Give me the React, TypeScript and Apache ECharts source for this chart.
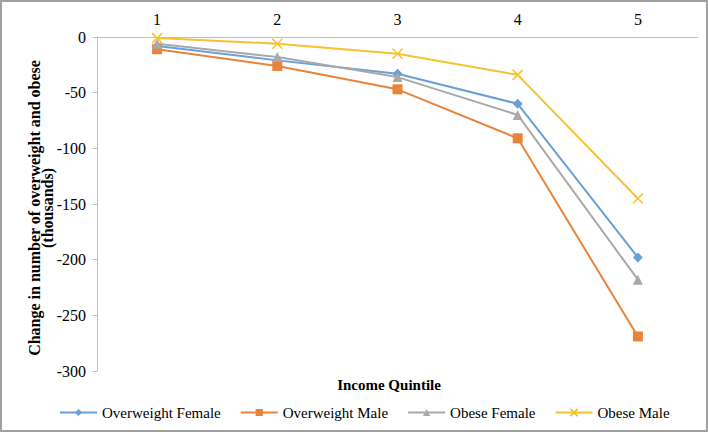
import React, { useEffect, useRef } from "react";
import * as echarts from "echarts";

const quintiles = ["1", "2", "3", "4", "5"];
const overweightFemale = [-8, -21, -33, -60, -198];
const overweightMale = [-11, -26, -47, -91, -269];
const obeseFemale = [-6, -18, -36, -70, -218];
const obeseMale = [-1, -6, -15, -34, -145];

const FONT = "Liberation Serif";
const COLORS = ["#6A9FD8", "#E8843A", "#A9A9A9", "#F6C22E"];
const CROSS = "path://M0,0L10,10M10,0L0,10";

export default function App() {
  const ref = useRef<HTMLDivElement>(null);
  useEffect(() => {
    if (!ref.current) return;
    const chart = echarts.init(ref.current, null, { renderer: "svg" });
    const mk = (name: string, data: number[], color: string, symbol: string, size: number, extra: any = {}) => ({
      name,
      type: "line",
      data,
      symbol,
      symbolSize: size,
      lineStyle: { color, width: 2 },
      itemStyle: { color, ...extra },
    });
    chart.setOption({
      animation: false,
      backgroundColor: "#fff",
      textStyle: { fontFamily: FONT },
      grid: { left: 97, right: 10, top: 37, bottom: 61 },
      legend: {
        left: 54,
        top: 400,
        itemWidth: 37,
        itemHeight: 9,
        itemGap: 19,
        textStyle: { fontFamily: FONT, fontSize: 15, color: "#000" },
        data: ["Overweight Female", "Overweight Male", "Obese Female", "Obese Male"],
      },
      xAxis: {
        type: "category",
        position: "top",
        data: quintiles,
        boundaryGap: true,
        axisLine: { lineStyle: { color: "#BFBFBF", width: 1 } },
        axisTick: { inside: true, length: 5, lineStyle: { color: "#BFBFBF" } },
        axisLabel: { fontFamily: FONT, fontSize: 16, color: "#000", margin: 10 },
        splitLine: { show: false },
      },
      yAxis: {
        type: "value",
        min: -300,
        max: 0,
        interval: 50,
        axisLine: { show: true, lineStyle: { color: "#BFBFBF", width: 1 } },
        axisTick: { show: true, length: 4, lineStyle: { color: "#BFBFBF" } },
        axisLabel: { fontFamily: FONT, fontSize: 16, color: "#000", margin: 11 },
        splitLine: { show: false },
      },
      graphic: [
        {
          type: "rect",
          shape: { x: 1, y: 1, width: 706, height: 430 },
          style: { fill: "none", stroke: "#A0A0A0", lineWidth: 2 },
          silent: true,
        },
        {
          type: "text",
          x: 41,
          y: 208,
          rotation: Math.PI / 2,
          style: {
            text: "Change in number of overweight and obese\n(thousands)",
            fontFamily: FONT,
            fontSize: 16,
            fontWeight: "bold",
            lineHeight: 13,
            fill: "#000",
            textAlign: "center",
            textVerticalAlign: "middle",
          },
        },
        {
          type: "text",
          x: 389,
          y: 385,
          style: {
            text: "Income Quintile",
            fontFamily: FONT,
            fontSize: 15,
            fontWeight: "bold",
            fill: "#000",
            textAlign: "center",
            textVerticalAlign: "middle",
          },
        },
      ],
      series: [
        mk("Overweight Female", overweightFemale, COLORS[0], "diamond", 10),
        mk("Overweight Male", overweightMale, COLORS[1], "rect", 10),
        mk("Obese Female", obeseFemale, COLORS[2], "triangle", 10),
        mk("Obese Male", obeseMale, COLORS[3], CROSS, 10, { borderColor: COLORS[3], borderWidth: 1.5 }),
      ],
    });
    return () => chart.dispose();
  }, []);
  return (
    <div
      ref={ref}
      style={{ position: "absolute", left: 0, top: 0, width: 708, height: 432 }}
    />
  );
}
